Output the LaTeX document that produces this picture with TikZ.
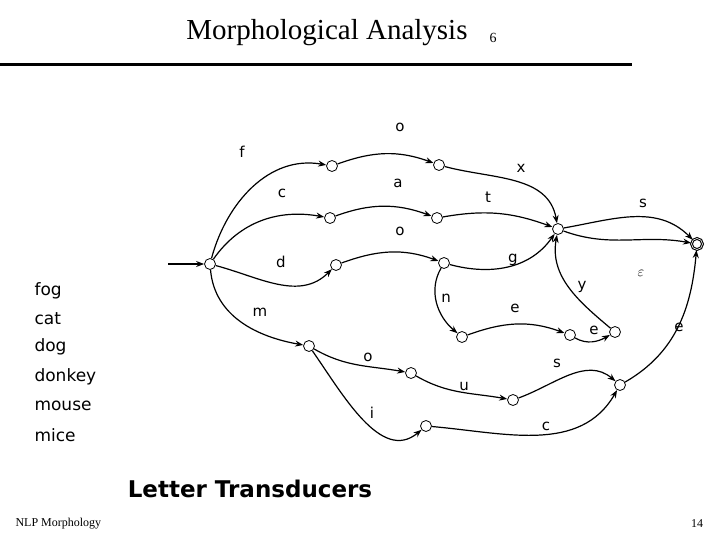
\documentclass[tikz,border=0pt]{standalone}
\usepackage{fontspec}
\setmainfont{Liberation Serif}
\newfontfamily\dv{DejaVu Sans}
\usetikzlibrary{arrows.meta}
\begin{document}
\begin{tikzpicture}[x=1pt,y=-1pt,
  st/.style={circle,draw,line width=0.8pt,inner sep=0pt,minimum size=11pt,fill=white},
  fin/.style={circle,draw,double,line width=1.1pt,inner sep=0pt,minimum size=11pt,fill=white},
  ed/.style={draw,line width=1.2pt,-{Stealth[length=8pt,width=6pt]}},
  lb/.style={font=\dv\fontsize{15}{17}\selectfont},
  wd/.style={font=\dv\fontsize{17}{19}\selectfont,anchor=west}]
\useasboundingbox (0,0) rectangle (720,540);
\node[font=\fontsize{29}{32}\selectfont] (title) at (327,33) {Morphological Analysis};
\node[font=\fontsize{14}{16}\selectfont] (six) at (493,38) {6};
\draw[line width=3pt] (0,65) -- (632,65);
\node (S) [st] at (210,264) {};
\node (f1)[st] at (332,166) {};
\node (fo)[st] at (439,165) {};
\node (c1)[st] at (330,218) {};
\node (ca)[st] at (437,218) {};
\node (d1)[st] at (336,265) {};
\node (do)[st] at (444,263) {};
\node (X) [st] at (558,229) {};
\node (F) [fin] at (697,244) {};
\node (n) [st] at (462,337) {};
\node (ne)[st] at (570,335) {};
\node (nee)[st] at (615,332) {};
\node (m) [st] at (309,346) {};
\node (mo)[st] at (411,373) {};
\node (mu)[st] at (513,400) {};
\node (ms)[st] at (620,385) {};
\node (mi)[st] at (426,426) {};
\coordinate (in) at (168,264);
\draw[ed] (in) -- (S);
\draw[ed] (S) to[out=75,in=170] (f1);
\draw[ed] (f1) to[out=20,in=160] (fo);
\draw[ed] (fo) to[out=-15,in=100] (X);
\draw[ed] (S) to[out=55,in=170] (c1);
\draw[ed] (c1) to[out=20,in=160] (ca);
\draw[ed] (ca) to[out=10,in=160] (X);
\draw[ed] (S) to[out=-15,in=-135] (d1);
\draw[ed] (d1) to[out=20,in=160] (do);
\draw[ed] (do) to[out=-15,in=-125] (X);
\draw[ed] (do) to[out=-120,in=140] (n);
\draw[ed] (n) to[out=20,in=160] (ne);
\draw[ed] (ne) to[out=-30,in=-150] (nee);
\draw[ed] (nee) to[out=140,in=-100] (X);
\draw[ed] (X) to[out=10,in=135] (F);
\draw[ed] (X) to[out=-20,in=170] (F);
\draw[ed] (S) to[out=-85,in=170] (m);
\draw[ed] (m) to[out=-30,in=170] (mo);
\draw[ed] (mo) to[out=-30,in=170] (mu);
\draw[ed] (mu) to[out=20,in=140] (ms);
\draw[ed] (m) to[out=-55,in=-140] (mi);
\draw[ed] (mi) to[out=-5,in=-120] (ms);
\draw[ed] (ms) to[out=30,in=-95] (F);
\node[lb] (l1) at (400,127) {o};
\node[lb] (l2) at (242,152) {f};
\node[lb] (l3) at (521,168) {x};
\node[lb] (l4) at (282,193) {c};
\node[lb] (l5) at (398,183) {a};
\node[lb] (l6) at (488,197) {t};
\node[lb] (l7) at (643,203) {s};
\node[lb] (l8) at (400,231) {o};
\node[lb] (l9) at (281,262) {d};
\node[lb] (l10) at (513,260) {g};
\node[font=\fontsize{14}{16}\selectfont] (l11) at (641,273) {$\varepsilon$};
\node[lb] (l12) at (582,287) {y};
\node[lb] (l13) at (446,298) {n};
\node[lb] (l14) at (515,308) {e};
\node[lb] (l15) at (594,330) {e};
\node[lb] (l16) at (679,327) {e};
\node[lb] (l17) at (260,312) {m};
\node[lb] (l18) at (368,357) {o};
\node[lb] (l19) at (464,386) {u};
\node[lb] (l20) at (557,363) {s};
\node[lb] (l21) at (372,413) {i};
\node[lb] (l22) at (546,426) {c};
\node[wd] (w1) at (31,291) {fog};
\node[wd] (w2) at (31,319) {cat};
\node[wd] (w3) at (31,347) {dog};
\node[wd] (w4) at (31,377) {donkey};
\node[wd] (w5) at (31,406) {mouse};
\node[wd] (w6) at (31,435) {mice};
\node[font=\dv\bfseries\fontsize{23}{26}\selectfont] (lt) at (250,489) {Letter Transducers};
\node[font=\fontsize{12}{14}\selectfont,anchor=west] (nlp) at (12,524) {NLP Morphology};
\node[font=\fontsize{12}{14}\selectfont] (pg) at (697,524) {14};
\end{tikzpicture}
\end{document}
